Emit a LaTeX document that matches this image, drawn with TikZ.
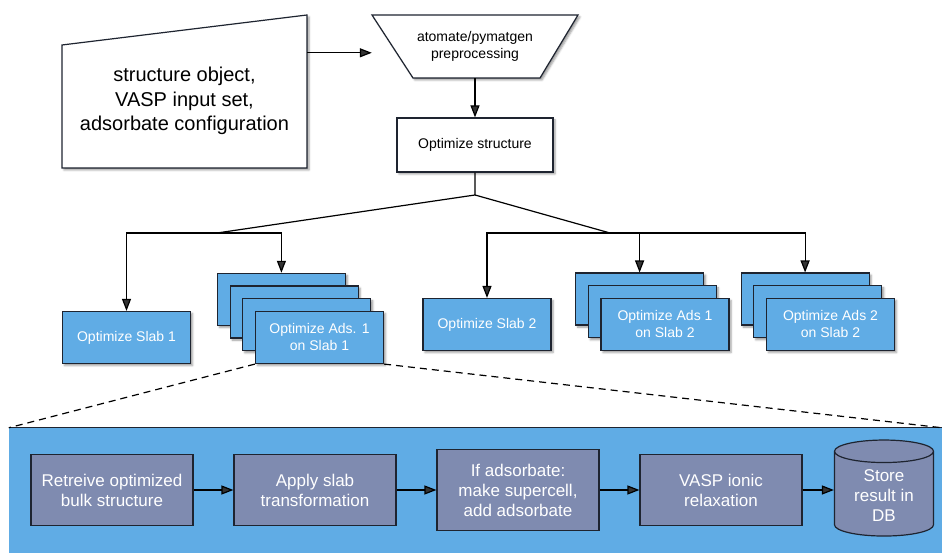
\documentclass[tikz,border=0pt]{standalone}
\usepackage{fontspec}
\setmainfont{Liberation Sans}
\usepackage{tikz}
\usetikzlibrary{calc}
\usetikzlibrary{arrows.meta}
\usetikzlibrary{shapes.geometric}
\usetikzlibrary{shadows.blur}

\definecolor{slabblue}{HTML}{60ACE5}
\definecolor{stepgray}{HTML}{7F8BB0}
\definecolor{edgegray}{HTML}{1E2430}

\begin{document}
\begin{tikzpicture}[x=1pt,y=1pt]
      \tikzset{
        boxshadow/.style={blur shadow={shadow xshift=2pt, shadow yshift=-2pt, shadow blur radius=2pt, shadow opacity=40}},
        outline/.style={draw=edgegray, line width=1.2pt, fill=white, boxshadow},
        inbox/.style={rectangle, minimum width=245pt, minimum height=134pt, align=center, font=\fontsize{20}{24.5}\selectfont},
        prebox/.style={rectangle, minimum width=206pt, minimum height=63pt, align=center, font=\fontsize{14}{17}\selectfont},
        box/.style={draw=edgegray, line width=1.2pt, rectangle, fill=white, boxshadow, minimum width=156pt, minimum height=54pt, font=\fontsize{14}{17}\selectfont},
        job/.style={draw=edgegray, line width=1.2pt, rectangle, fill=slabblue, text=white, boxshadow, minimum width=128pt, minimum height=52pt, align=center, font=\fontsize{14}{17}\selectfont},
        panel/.style={rectangle, fill=slabblue, inner sep=0pt, minimum width=933pt, minimum height=125pt},
        task/.style={draw=edgegray, line width=1.2pt, rectangle, fill=stepgray, text=white, minimum width=162pt, minimum height=71pt, align=center, font=\fontsize{17}{20}\selectfont, node distance=203pt},
        db/.style={draw=edgegray, line width=1.2pt, cylinder, shape border rotate=90, aspect=0.34, fill=stepgray, text=white, minimum width=99pt, minimum height=96pt, align=center, font=\fontsize{17}{20}\selectfont, node distance=163pt},
        line/.style={draw, line width=1.2pt, -{Triangle[length=12pt, width=9pt]}},
        link/.style={draw, line width=1.2pt},
        zoomline/.style={draw, line width=1.2pt, dash pattern=on 7pt off 5pt},
      }
      \useasboundingbox (0,0) rectangle (942,553);

      % inputs and preprocessing (outlines first, text on top)
      \coordinate (inputc) at (184.5,452);
      \coordinate (prepc) at (475,506.5);
      \path [outline] ($(inputc)+(-122.5,-67)$) -- ($(inputc)+(122.5,-67)$) -- ($(inputc)+(122.5,86)$) -- ($(inputc)+(-122.5,56)$) -- cycle;
      \path [outline] ($(prepc)+(-103,31.5)$) -- ($(prepc)+(103,31.5)$) -- ($(prepc)+(65,-31.5)$) -- ($(prepc)+(-62,-31.5)$) -- cycle;
      \node [inbox] (input) at (inputc) {structure object,\\VASP input set,\\adsorbate configuration};
      \node [prebox] (prep) at (prepc) {atomate/pymatgen\\preprocessing};
      \node [box] (opt) at (475,408) {Optimize structure};

      \coordinate (inarr) at ([yshift=-19pt]input.north east);
      \path [line] (inarr) -- (inarr -| prep.west);
      \path [line] (prep) -- (opt);

      % slab and adsorbate jobs
      \node [job] (slab1) at (126.5,215.5) {Optimize Slab 1};
      \coordinate (ads11pos) at (319.5,215.5);
      \foreach \i in {3,2,1}
        \node [job] (ads11-\i) at ($(ads11pos)+(-12.7*\i,12.7*\i)$) {};
      \node [job] (ads11) at (ads11pos) {Optimize Ads. 1\\on Slab 1};

      \node [job] (slab2) at (487,228.5) {Optimize Slab 2};
      \coordinate (ads12pos) at (665,228.5);
      \foreach \i in {2,1}
        \node [job] (ads12-\i) at ($(ads12pos)+(-12.7*\i,12.7*\i)$) {};
      \node [job] (ads12) at (ads12pos) {Optimize Ads 1\\on Slab 2};

      \coordinate (ads22pos) at (830.5,228.5);
      \foreach \i in {2,1}
        \node [job] (ads22-\i) at ($(ads22pos)+(-12.7*\i,12.7*\i)$) {};
      \node [job] (ads22) at (ads22pos) {Optimize Ads 2\\on Slab 2};

      % fan out
      \coordinate (split) at (475,358);
      \coordinate (left) at (217,320);
      \coordinate (right) at (610,320);
      \path [link] (opt) -- (split) -- (left);
      \path [link] (split) -- (right);
      \path [line] (left) -| (slab1);
      \path [line] (left) -| (ads11-3);
      \path [line] (right) -| (slab2);
      \path [line] (right) -| (ads12-2);
      \path [line] (right) -| (ads22-2);

      % workflow of one job
      \node [panel] (detail) at (475.5,62.5) {};
      \path [draw=edgegray, line width=1.2pt] (detail.north west) -- (detail.north east);
      \path [zoomline] (ads11.south west) -- (detail.north west);
      \path [zoomline] (ads11.south east) -- (detail.north east);

      \node [task] (bulk) at (112,63) {Retreive optimized\\bulk structure};
      \node [task, right of=bulk] (slab) {Apply slab\\transformation};
      \node [task, right of=slab, minimum height=81pt] (ads) {If adsorbate:\\make supercell,\\add adsorbate};
      \node [task, right of=ads] (relax) {VASP ionic\\relaxation};
      \node [db, right of=relax, yshift=-6pt] (store) {Store\\result in\\DB};

      \path [line] (bulk) -- (slab);
      \path [line] (slab) -- (ads);
      \path [line] (ads) -- (relax);
      \path [line] (relax) -- (store.west |- relax.east);
\end{tikzpicture}
\end{document}
